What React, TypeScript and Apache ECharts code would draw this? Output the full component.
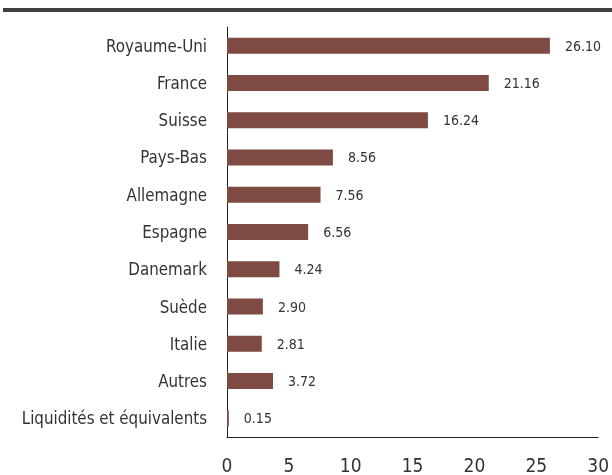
import React, { useEffect, useRef } from "react";
import * as echarts from "echarts";

const categories = [
  "Royaume-Uni",
  "France",
  "Suisse",
  "Pays-Bas",
  "Allemagne",
  "Espagne",
  "Danemark",
  "Suède",
  "Italie",
  "Autres",
  "Liquidités et équivalents",
];
const values = [26.1, 21.16, 16.24, 8.56, 7.56, 6.56, 4.24, 2.9, 2.81, 3.72, 0.15];
const xTicks = [0, 5, 10, 15, 20, 25, 30];

const FONT = "'DejaVu Sans Condensed', sans-serif";

export default function App() {
  const ref = useRef<HTMLDivElement>(null);
  useEffect(() => {
    if (!ref.current) return;
    const chart = echarts.init(ref.current, undefined, { renderer: "svg" });
    chart.setOption({
      animation: false,
      graphic: [
        {
          type: "rect",
          shape: { x: 3, y: 8, width: 609, height: 4 },
          style: { fill: "#404040" },
        },
      ],
      grid: { left: 227, right: 11, top: 27, bottom: 38, containLabel: false },
      xAxis: {
        type: "value",
        min: xTicks[0],
        max: xTicks[xTicks.length - 1],
        interval: 5,
        axisLine: { show: true, lineStyle: { color: "#222", width: 1 } },
        axisTick: { show: false },
        splitLine: { show: false },
        axisLabel: {
          color: "#333",
          fontFamily: FONT,
          fontSize: 19,
          margin: 18,
        },
      },
      yAxis: {
        type: "category",
        data: categories,
        inverse: true,
        axisLine: { show: true, lineStyle: { color: "#222", width: 1 } },
        axisTick: { show: false },
        axisLabel: {
          color: "#333",
          fontFamily: FONT,
          fontSize: 16.8,
          margin: 20,
        },
      },
      series: [
        {
          type: "bar",
          data: values,
          barWidth: 16,
          itemStyle: { color: "#7f4a41" },
          label: {
            show: true,
            position: "right",
            distance: 15,
            formatter: (p: any) => Number(p.value).toFixed(2),
            color: "#333",
            fontFamily: FONT,
            fontSize: 14,
          },
        },
      ],
    });
    return () => chart.dispose();
  }, []);
  return (
    <div
      ref={ref}
      style={{ position: "fixed", left: 0, top: 0, width: 612, height: 475 }}
    />
  );
}
